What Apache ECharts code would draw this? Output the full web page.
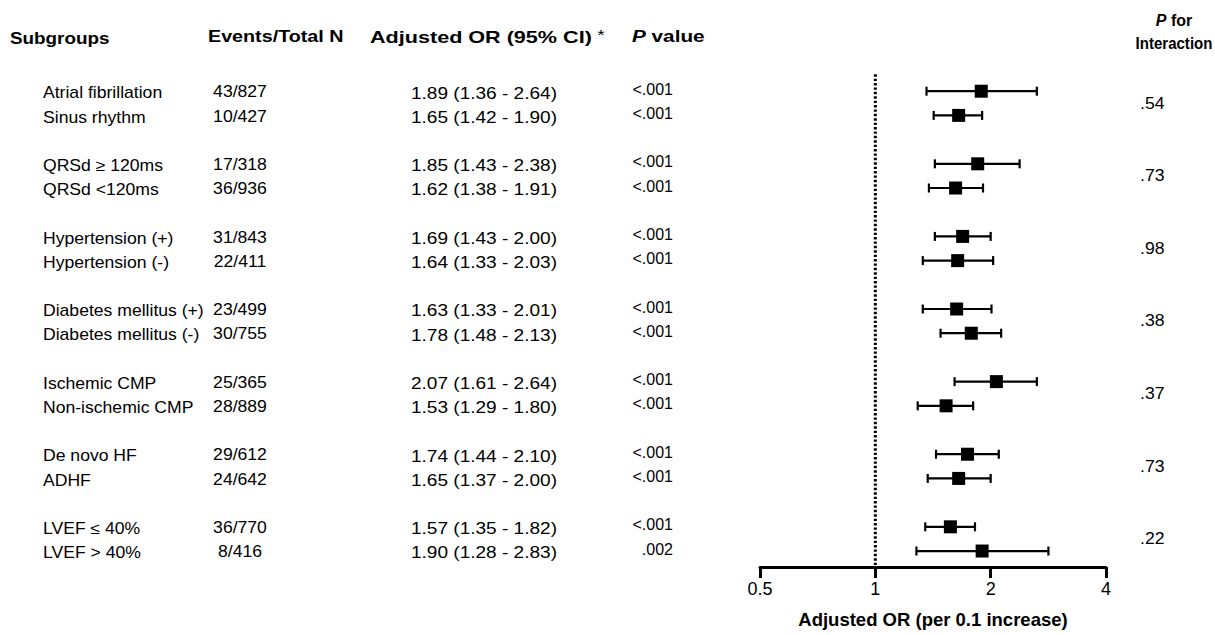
<!DOCTYPE html>
<html><head><meta charset="utf-8">
<script src="https://cdn.jsdelivr.net/npm/echarts@6/dist/echarts.min.js"></script>
<style>html,body{margin:0;padding:0;background:#fff}#c{width:1215px;height:635px}</style>
</head><body><div id="c"></div>
<script>
// ---------- data ----------
const subgroups = ['Atrial fibrillation', 'Sinus rhythm', 'QRSd \u2265 120ms', 'QRSd <120ms',
  'Hypertension (+)', 'Hypertension (-)', 'Diabetes mellitus (+)', 'Diabetes mellitus (-)',
  'Ischemic CMP', 'Non-ischemic CMP', 'De novo HF', 'ADHF', 'LVEF \u2264 40%', 'LVEF > 40%'];
const events = ['43/827', '10/427', '17/318', '36/936', '31/843', '22/411', '23/499', '30/755',
  '25/365', '28/889', '29/612', '24/642', '36/770', '8/416'];
const orValues = [1.89, 1.65, 1.85, 1.62, 1.69, 1.64, 1.63, 1.78, 2.07, 1.53, 1.74, 1.65, 1.57, 1.90];
const ciLow = [1.36, 1.42, 1.43, 1.38, 1.43, 1.33, 1.33, 1.48, 1.61, 1.29, 1.44, 1.37, 1.35, 1.28];
const ciHigh = [2.64, 1.90, 2.38, 1.91, 2.00, 2.03, 2.01, 2.13, 2.64, 1.80, 2.10, 2.00, 1.82, 2.83];
const pValues = ['<.001', '<.001', '<.001', '<.001', '<.001', '<.001', '<.001', '<.001',
  '<.001', '<.001', '<.001', '<.001', '<.001', '.002'];
const pInteraction = ['.54', '.73', '.98', '.38', '.37', '.73', '.22'];
const xTicks = [0.5, 1, 2, 4];
const refValue = 1;

// ---------- layout ----------
const groupSize = 2;
const rows = subgroups.map((_, i) => i + Math.floor(i / groupSize));
const FONT = '"Liberation Sans", Arial, Helvetica, sans-serif';
const BODY = '16px ' + FONT;
const HEAD = 'bold 17px ' + FONT;
const HEAD2 = 'bold 16px ' + FONT;
const Y_MIN = -1, Y_MAX = 19.66;

function textEl(x, y, s, align, font, sx, rich) {
  const st = { text: s, font: font, fill: '#000', align: align, verticalAlign: 'middle',
    textAlign: align, textVerticalAlign: 'middle', x: 0, y: 0 };
  if (rich) st.rich = rich;
  return { type: 'text', x: x, y: y, scaleX: sx, scaleY: 1, style: st };
}

const chart = echarts.init(document.getElementById('c'), null, { renderer: 'svg' });

function rich(size) {
  return {
    i: { fontStyle: 'italic', fontWeight: 'bold', fontSize: size, fontFamily: FONT, fill: '#000' },
    b: { fontWeight: 'bold', fontSize: size, fontFamily: FONT, fill: '#000' },
    s: { fontWeight: 'normal', fontSize: size - 2, fontFamily: FONT, fill: '#000', padding: [0, 0, 5, 0] }
  };
}

chart.setOption({
  animation: false,
  backgroundColor: '#fff',
  grid: { left: 760, right: 109, top: 67, bottom: 68, containLabel: false },
  xAxis: {
    type: 'log', logBase: 2, min: xTicks[0], max: xTicks[xTicks.length - 1], interval: 1,
    position: 'bottom',
    axisLine: { onZero: false, lineStyle: { color: '#000', width: 3 } },
    axisTick: { show: true, length: 11, lineStyle: { color: '#000', width: 3 } },
    axisLabel: { color: '#000', fontSize: 18, fontFamily: FONT, margin: 13,
      formatter: v => String(+v.toFixed(2)) },
    splitLine: { show: false },
    name: 'Adjusted OR (per 0.1 increase)', nameLocation: 'middle', nameGap: 43,
    nameTextStyle: { color: '#000', fontSize: 18.5, fontWeight: 'bold', fontFamily: FONT }
  },
  yAxis: { type: 'value', inverse: true, min: Y_MIN, max: Y_MAX, show: false },
  graphic: [
    textEl(10, 38, 'Subgroups', 'left', HEAD, 1.11),
    textEl(208, 36, 'Events/Total N', 'left', HEAD, 1.16),
    textEl(370, 37, '{b|Adjusted OR (95% CI)}{s| *}', 'left', HEAD, 1.27, rich(17)),
    textEl(632, 36, '{i|P}{b| value}', 'left', HEAD, 1.22, rich(17)),
    textEl(1174, 20, '{i|P}{b| for}', 'center', HEAD2, 1.0, rich(16)),
    textEl(1174, 43, 'Interaction', 'center', HEAD2, 0.94)
  ],
  series: [
    {
      type: 'line', silent: true, symbol: 'none', z: 1,
      data: [[refValue, -0.7], [refValue, Y_MAX]],
      lineStyle: { color: '#000', width: 3, type: [2.4, 2] }
    },
    {
      type: 'custom', silent: true, z: 3,
      data: orValues.map((v, i) => [v, rows[i], ciLow[i], ciHigh[i]]),
      encode: { x: [0, 2, 3], y: 1 },
      renderItem: function (params, api) {
        const r = api.value(1);
        const p = api.coord([api.value(0), r]);
        const xl = api.coord([api.value(2), r])[0];
        const xh = api.coord([api.value(3), r])[0];
        const y = p[1];
        const st = { stroke: '#000', lineWidth: 2.2, fill: null };
        return {
          type: 'group', children: [
            { type: 'line', shape: { x1: xl, y1: y, x2: xh, y2: y }, style: st },
            { type: 'line', shape: { x1: xl, y1: y - 4.5, x2: xl, y2: y + 4.5 }, style: st },
            { type: 'line', shape: { x1: xh, y1: y - 4.5, x2: xh, y2: y + 4.5 }, style: st },
            { type: 'rect', shape: { x: p[0] - 6.5, y: y - 6.5, width: 13, height: 13 }, style: { fill: '#000' } }
          ]
        };
      }
    },
    {
      type: 'custom', silent: true, clip: false, z: 4,
      data: rows.map((r, i) => [refValue, r, i]),
      encode: { x: 0, y: 1 },
      renderItem: function (params, api) {
        const i = api.value(2);
        const y = api.coord([refValue, api.value(1)])[1];
        const orTxt = orValues[i].toFixed(2) + ' (' + ciLow[i].toFixed(2) + ' - ' + ciHigh[i].toFixed(2) + ')';
        return {
          type: 'group', children: [
            textEl(43, y + 2, subgroups[i], 'left', BODY, 1.1),
            textEl(240, y + 1, events[i], 'center', BODY, 1.1),
            textEl(411, y + 2, orTxt, 'left', BODY, 1.19),
            textEl(673, y - 2, pValues[i], 'right', BODY, 1.0)
          ]
        };
      }
    },
    {
      type: 'custom', silent: true, clip: false, z: 4,
      data: pInteraction.map((p, g) => [refValue, g * (groupSize + 1) + 0.5, g]),
      encode: { x: 0, y: 1 },
      renderItem: function (params, api) {
        const g = api.value(2);
        const y = api.coord([refValue, api.value(1)])[1];
        return textEl(1140, y, pInteraction[g], 'left', BODY, 1.1);
      }
    }
  ]
});
</script>
</body></html>
